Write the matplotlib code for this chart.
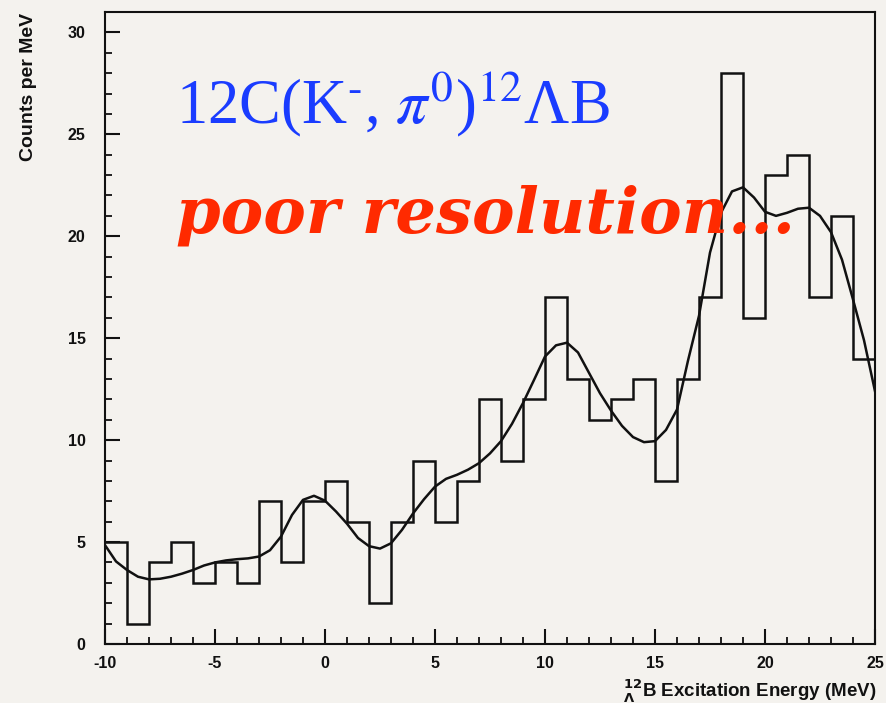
import matplotlib

matplotlib.use("Agg")
import matplotlib.pyplot as plt
import numpy as np

plt.rcParams["axes.unicode_minus"] = False

# Histogram: counts per 1 MeV bin, bins from -10 to 25 MeV
BIN_EDGES = np.arange(-10, 26, 1)
COUNTS = [5, 1, 4, 5, 3, 4, 3, 7, 4, 7, 8, 6, 2, 6, 9, 6, 8, 12, 9, 12,
          17, 13, 11, 12, 13, 8, 13, 17, 28, 16, 23, 24, 17, 21, 14]

# Fitted curve, every 0.5 MeV
FIT_E = np.arange(-10, 25.5, 0.5)
FIT_Y = [4.85, 4.05, 3.63, 3.3, 3.17, 3.2, 3.3, 3.45, 3.63, 3.85,
         4.0, 4.1, 4.16, 4.2, 4.29, 4.6, 5.27, 6.33, 7.07, 7.27,
         7.03, 6.5, 5.9, 5.2, 4.8, 4.68, 4.94, 5.6, 6.4, 7.1,
         7.72, 8.1, 8.3, 8.55, 8.87, 9.35, 9.95, 10.8, 11.82, 12.95,
         14.1, 14.65, 14.78, 14.3, 13.3, 12.3, 11.45, 10.7, 10.15, 9.9,
         9.95, 10.5, 11.5, 13.9, 16.1, 19.2, 21.15, 22.2, 22.4, 21.9,
         21.2, 21.0, 21.15, 21.35, 21.4, 21.0, 20.2, 18.85, 16.9, 14.9,
         12.4]

X_TICKS = [-10, -5, 0, 5, 10, 15, 20, 25]
Y_TICKS = [0, 5, 10, 15, 20, 25, 30]

PAPER = "#f4f2ee"
INK = "#111111"
BLUE = "#1a3cff"
RED = "#ff2a00"

W, H = 886, 703
fig = plt.figure(figsize=(W / 100, H / 100), dpi=100, facecolor=PAPER)
ax = fig.add_axes([105 / W, 1 - 644 / H, (875 - 105) / W, (644 - 12) / H])
ax.set_facecolor(PAPER)

ax.stairs(COUNTS, BIN_EDGES, baseline=None, color=INK, linewidth=1.8)
ax.plot(FIT_E, FIT_Y, color=INK, linewidth=1.8)

ax.set_xlim(-10, 25)
ax.set_ylim(0, 31.0)
ax.set_xticks(X_TICKS)
ax.set_yticks(Y_TICKS)
ax.set_xticks(np.arange(-10, 26, 1), minor=True)
ax.set_yticks(np.arange(0, 31, 1), minor=True)
ax.tick_params(which="major", direction="in", length=11, width=1.5,
               color=INK)
ax.tick_params(which="minor", direction="in", length=5, width=1.3,
               color=INK)
ax.tick_params(axis="x", which="major", pad=9)
ax.tick_params(axis="y", which="major", pad=14)
for lab in ax.get_xticklabels() + ax.get_yticklabels():
    lab.set_fontfamily("Liberation Sans")
    lab.set_fontweight("bold")
    lab.set_fontsize(11.5)
    lab.set_color(INK)
for sp in ax.spines.values():
    sp.set_color(INK)
    sp.set_linewidth(1.5)

fig.text(29 / W, 1 - 13 / H, "Counts per MeV", rotation=90, ha="center",
         va="top", fontsize=14, fontweight="bold", family="Liberation Sans",
         color=INK)
fig.text(876 / W, 1 - 697 / H,
         r"$\mathbf{^{12}_{\Lambda}}$B Excitation Energy (MeV)",
         ha="right", va="baseline", fontsize=13.5, fontweight="bold",
         family="Liberation Sans", math_fontfamily="dejavusans", color=INK)

fig.text(176 / W, 1 - 123 / H,
         r"12C(K$^{\text{-}}$, $\pi^{0}$)$^{12}$ΛB",
         ha="left", va="baseline", fontsize=45, family="Liberation Serif",
         math_fontfamily="stix", color=BLUE)
fig.text(176 / W, 1 - 233 / H, "poor resolution...",
         ha="left", va="baseline", fontsize=46, style="italic",
         fontweight="bold", family="DejaVu Serif", color=RED)

fig.savefig("out.png", dpi=100, facecolor=PAPER)
